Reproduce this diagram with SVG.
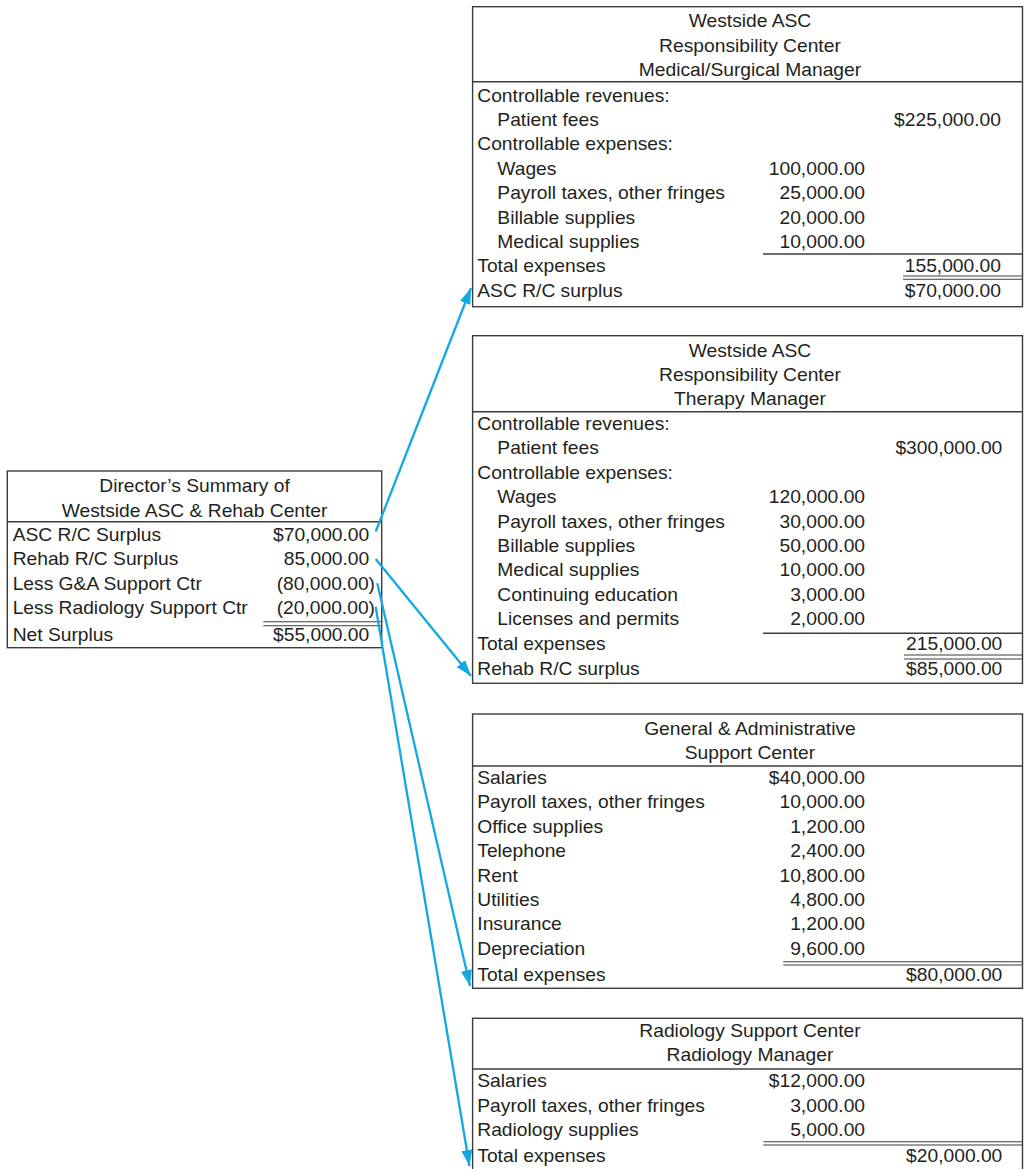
<svg xmlns="http://www.w3.org/2000/svg" width="1025" height="1169" viewBox="0 0 1025 1169">
  <style>
    .box { fill: #ffffff; stroke: #3c3c3c; stroke-width: 1.4; }
    .rule { stroke: #3c3c3c; stroke-width: 1.4; fill: none; }
    .rule2 { stroke: #3c3c3c; stroke-width: 1.1; fill: none; }
    .t { font-family: "Liberation Sans", Arial, Helvetica, sans-serif; font-size: 17.5px; fill: #231f20; }
    .c { text-anchor: middle; }
    .r { text-anchor: end; }
    .arrow { stroke: #12a8e2; stroke-width: 2.3; fill: none; }
  </style>
  <defs>
    <marker id="head" viewBox="0 0 16 11" refX="16" refY="5.5" markerWidth="16" markerHeight="11" markerUnits="userSpaceOnUse" orient="auto">
      <path d="M0,0 L16,5.5 L0,11 z" fill="#12a8e2"/>
    </marker>
  </defs>

  <!-- Director's summary -->
  <g id="summary">
    <rect class="box" x="7.3" y="471" width="374.4" height="176.7"/>
    <line class="rule" x1="7.3" y1="521.7" x2="381.7" y2="521.7"/>
    <line class="rule2" x1="263.3" y1="621.7" x2="381.7" y2="621.7"/>
    <line class="rule2" x1="263.3" y1="625.7" x2="381.7" y2="625.7"/>
    <g transform="scale(1.1 1)">
      <text class="t c" x="176.9" y="492.3">Director’s Summary of</text>
      <text class="t c" x="176.9" y="516.7">Westside ASC &amp; Rehab Center</text>
      <text class="t" x="11.5" y="541">ASC R/C Surplus</text>
      <text class="t r" x="335.7" y="541">$70,000.00</text>
      <text class="t" x="11.5" y="565.5">Rehab R/C Surplus</text>
      <text class="t r" x="335.7" y="565.5">85,000.00</text>
      <text class="t" x="11.5" y="590">Less G&amp;A Support Ctr</text>
      <text class="t r" x="340.9" y="590">(80,000.00)</text>
      <text class="t" x="11.5" y="614.3">Less Radiology Support Ctr</text>
      <text class="t r" x="340.9" y="614.3">(20,000.00)</text>
      <text class="t" x="11.5" y="641">Net Surplus</text>
      <text class="t r" x="335.7" y="641">$55,000.00</text>
    </g>
  </g>

  <!-- Medical/Surgical responsibility center -->
  <g id="asc-medsurg">
    <rect class="box" x="472.6" y="6.7" width="549.9" height="300"/>
    <line class="rule" x1="472.6" y1="81.7" x2="1022.5" y2="81.7"/>
    <line class="rule" x1="763" y1="254" x2="1022.5" y2="254"/>
    <line class="rule2" x1="903" y1="276" x2="1022.5" y2="276"/>
    <line class="rule2" x1="903" y1="279.3" x2="1022.5" y2="279.3"/>
    <g transform="scale(1.1 1)">
      <text class="t c" x="681.8" y="27.3">Westside ASC</text>
      <text class="t c" x="681.8" y="51.7">Responsibility Center</text>
      <text class="t c" x="681.8" y="76">Medical/Surgical Manager</text>
      <text class="t" x="433.9" y="101.7">Controllable revenues:</text>
      <text class="t" x="452.1" y="126">Patient fees</text>
      <text class="t r" x="910" y="126">$225,000.00</text>
      <text class="t" x="433.9" y="150.4">Controllable expenses:</text>
      <text class="t" x="452.1" y="174.8">Wages</text>
      <text class="t r" x="786.4" y="174.8">100,000.00</text>
      <text class="t" x="452.1" y="199.2">Payroll taxes, other fringes</text>
      <text class="t r" x="786.4" y="199.2">25,000.00</text>
      <text class="t" x="452.1" y="223.6">Billable supplies</text>
      <text class="t r" x="786.4" y="223.6">20,000.00</text>
      <text class="t" x="452.1" y="248.5">Medical supplies</text>
      <text class="t r" x="786.4" y="248.5">10,000.00</text>
      <text class="t" x="433.9" y="272">Total expenses</text>
      <text class="t r" x="910" y="272">155,000.00</text>
      <text class="t" x="433.9" y="297.5">ASC R/C surplus</text>
      <text class="t r" x="910" y="297.5">$70,000.00</text>
    </g>
  </g>

  <!-- Therapy responsibility center -->
  <g id="asc-therapy">
    <rect class="box" x="472.6" y="335.7" width="549.9" height="347.6"/>
    <line class="rule" x1="472.6" y1="411.7" x2="1022.5" y2="411.7"/>
    <line class="rule" x1="763" y1="633.3" x2="1022.5" y2="633.3"/>
    <line class="rule2" x1="904" y1="655" x2="1022.5" y2="655"/>
    <line class="rule2" x1="904" y1="659" x2="1022.5" y2="659"/>
    <g transform="scale(1.1 1)">
      <text class="t c" x="681.8" y="356.7">Westside ASC</text>
      <text class="t c" x="681.8" y="381">Responsibility Center</text>
      <text class="t c" x="681.8" y="405.3">Therapy Manager</text>
      <text class="t" x="433.9" y="430">Controllable revenues:</text>
      <text class="t" x="452.1" y="454.4">Patient fees</text>
      <text class="t r" x="911.2" y="454.4">$300,000.00</text>
      <text class="t" x="433.9" y="478.8">Controllable expenses:</text>
      <text class="t" x="452.1" y="503.2">Wages</text>
      <text class="t r" x="786.4" y="503.2">120,000.00</text>
      <text class="t" x="452.1" y="527.6">Payroll taxes, other fringes</text>
      <text class="t r" x="786.4" y="527.6">30,000.00</text>
      <text class="t" x="452.1" y="552">Billable supplies</text>
      <text class="t r" x="786.4" y="552">50,000.00</text>
      <text class="t" x="452.1" y="576.4">Medical supplies</text>
      <text class="t r" x="786.4" y="576.4">10,000.00</text>
      <text class="t" x="452.1" y="600.8">Continuing education</text>
      <text class="t r" x="786.4" y="600.8">3,000.00</text>
      <text class="t" x="452.1" y="625.2">Licenses and permits</text>
      <text class="t r" x="786.4" y="625.2">2,000.00</text>
      <text class="t" x="433.9" y="649.6">Total expenses</text>
      <text class="t r" x="911.2" y="649.6">215,000.00</text>
      <text class="t" x="433.9" y="675">Rehab R/C surplus</text>
      <text class="t r" x="911.2" y="675">$85,000.00</text>
    </g>
  </g>

  <!-- General & Administrative support center -->
  <g id="ga-support">
    <rect class="box" x="472.6" y="714" width="549.9" height="274.3"/>
    <line class="rule" x1="472.6" y1="766" x2="1022.5" y2="766"/>
    <line class="rule2" x1="783.3" y1="961.7" x2="1022.5" y2="961.7"/>
    <line class="rule2" x1="783.3" y1="965" x2="1022.5" y2="965"/>
    <g transform="scale(1.1 1)">
      <text class="t c" x="681.8" y="735">General &amp; Administrative</text>
      <text class="t c" x="681.8" y="759.3">Support Center</text>
      <text class="t" x="433.9" y="784">Salaries</text>
      <text class="t r" x="786.4" y="784">$40,000.00</text>
      <text class="t" x="433.9" y="808.4">Payroll taxes, other fringes</text>
      <text class="t r" x="786.4" y="808.4">10,000.00</text>
      <text class="t" x="433.9" y="832.8">Office supplies</text>
      <text class="t r" x="786.4" y="832.8">1,200.00</text>
      <text class="t" x="433.9" y="857.2">Telephone</text>
      <text class="t r" x="786.4" y="857.2">2,400.00</text>
      <text class="t" x="433.9" y="881.6">Rent</text>
      <text class="t r" x="786.4" y="881.6">10,800.00</text>
      <text class="t" x="433.9" y="906">Utilities</text>
      <text class="t r" x="786.4" y="906">4,800.00</text>
      <text class="t" x="433.9" y="930.4">Insurance</text>
      <text class="t r" x="786.4" y="930.4">1,200.00</text>
      <text class="t" x="433.9" y="954.8">Depreciation</text>
      <text class="t r" x="786.4" y="954.8">9,600.00</text>
      <text class="t" x="433.9" y="981.5">Total expenses</text>
      <text class="t r" x="911.2" y="981.5">$80,000.00</text>
    </g>
  </g>

  <!-- Radiology support center -->
  <g id="radiology-support">
    <rect class="box" x="472.6" y="1018.3" width="549.9" height="160"/>
    <line class="rule" x1="472.6" y1="1069" x2="1022.5" y2="1069"/>
    <line class="rule2" x1="763.3" y1="1141.7" x2="1022.5" y2="1141.7"/>
    <line class="rule2" x1="763.3" y1="1145" x2="1022.5" y2="1145"/>
    <g transform="scale(1.1 1)">
      <text class="t c" x="681.8" y="1037">Radiology Support Center</text>
      <text class="t c" x="681.8" y="1061.5">Radiology Manager</text>
      <text class="t" x="433.9" y="1087.3">Salaries</text>
      <text class="t r" x="786.4" y="1087.3">$12,000.00</text>
      <text class="t" x="433.9" y="1111.7">Payroll taxes, other fringes</text>
      <text class="t r" x="786.4" y="1111.7">3,000.00</text>
      <text class="t" x="433.9" y="1136">Radiology supplies</text>
      <text class="t r" x="786.4" y="1136">5,000.00</text>
      <text class="t" x="433.9" y="1162.5">Total expenses</text>
      <text class="t r" x="911.2" y="1162.5">$20,000.00</text>
    </g>
  </g>

  <!-- Connectors from summary lines to the detail statements -->
  <g id="connectors">
    <path class="arrow" d="M375.7,531.7 L471,288" marker-end="url(#head)"/>
    <path class="arrow" d="M375.7,559 L471,676" marker-end="url(#head)"/>
    <path class="arrow" d="M377.3,583.3 L470,986" marker-end="url(#head)"/>
    <path class="arrow" d="M375.7,606.7 L469.5,1166" marker-end="url(#head)"/>
  </g>
</svg>
